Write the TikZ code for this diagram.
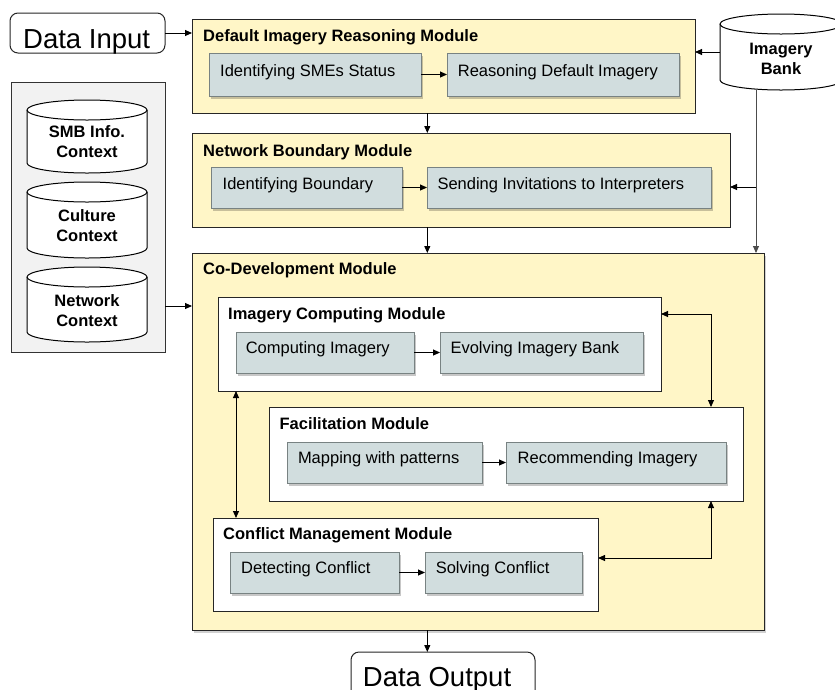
\documentclass[tikz,border=0pt]{standalone}
\usepackage{fontspec}
\setmainfont{Liberation Sans}
\usetikzlibrary{arrows.meta,shadows}
\definecolor{modyellow}{RGB}{255,246,199}
\definecolor{stepfill}{RGB}{209,221,222}
\definecolor{stepedge}{RGB}{120,130,130}
\definecolor{panelgray}{RGB}{242,242,242}
\newcommand{\fsz}{\fontsize{16.5}{20}\selectfont}
\newcommand{\fbig}{\fontsize{27.5}{32}\selectfont}
\newcommand{\drawcyl}[4]{%
  \pgfmathsetmacro\cylrx{(#3-#1)/2}%
  \filldraw[cyl] (#1,#2+10) -- (#1,#4-10) arc[start angle=180,end angle=0,x radius=\cylrx,y radius=10] -- (#3,#2+10) arc[start angle=0,end angle=-180,x radius=\cylrx,y radius=10] -- cycle;
  \draw[cyl,fill=none] (#1,#2+10) arc[start angle=180,end angle=0,x radius=\cylrx,y radius=10];
}
\begin{document}
\begin{tikzpicture}[x=1pt,y=-1pt,
  box/.style={anchor=north west, inner sep=0pt, outer sep=0pt},
  module/.style={box, draw=black!85, fill=modyellow, line width=1pt},
  submodule/.style={box, draw=black!85, fill=white, line width=1pt},
  stepbox/.style={box, draw=stepedge, fill=stepfill, line width=1pt, drop shadow={shadow xshift=1.5pt, shadow yshift=-2.5pt, fill=black, opacity=0.22}},
  titletext/.style={anchor=base west, inner sep=0pt, font=\bfseries\fsz},
  steptext/.style={anchor=base west, inner sep=0pt, font=\fsz},
  cyltext/.style={align=center, inner sep=0pt, font=\bfseries\fsz},
  bigtext/.style={anchor=base west, inner sep=0pt, font=\fbig},
  arr/.style={-{Triangle[length=7pt,width=6pt]}, line width=0.9pt, draw=black},
  darr/.style={{Triangle[length=7pt,width=6pt]}-{Triangle[length=7pt,width=6pt]}, line width=0.9pt, draw=black},
  cyl/.style={draw=black, line width=1pt, fill=white}
]
\useasboundingbox (0,0) rectangle (835,689);
\fill[white] (0,0) rectangle (835,689);

% Data input
\node[box, draw=black!85, rounded corners=8pt, line width=1pt, minimum width=155pt, minimum height=40pt] (din) at (10,13) {};
\node[bigtext] (dintext) at (23,48.3) {Data Input};

% Default Imagery Reasoning Module
\node[module, minimum width=503pt, minimum height=94pt] (dirm) at (192,19) {};
\node[titletext] (tdirm) at (203,41) {Default Imagery Reasoning Module};
\node[stepbox, minimum width=212pt, minimum height=43pt] (b1) at (209,53) {};
\node[stepbox, minimum width=232pt, minimum height=43pt] (b2) at (447,53) {};
\node[steptext] (l1) at (220,76) {Identifying SMEs Status};
\node[steptext] (l2) at (457.7,76) {Reasoning Default Imagery};

% Imagery Bank
\drawcyl{720}{14}{842}{90}
\node[box, minimum width=122pt, minimum height=76pt] (ib) at (720,14) {};
\node[cyltext] (ibtext) at (781,59) {Imagery\\Bank};

% Network Boundary Module
\node[module, minimum width=538pt, minimum height=94pt] (nbm) at (192,133) {};
\node[titletext] (tnbm) at (203,156) {Network Boundary Module};
\node[stepbox, minimum width=191pt, minimum height=41pt] (b3) at (211,167) {};
\node[stepbox, minimum width=284pt, minimum height=41pt] (b4) at (427,167) {};
\node[steptext] (l3) at (222.5,189) {Identifying Boundary};
\node[steptext] (l4) at (437.3,189) {Sending Invitations to Interpreters};

% Context panel
\node[box, draw=black!80, fill=panelgray, line width=1pt, minimum width=154pt, minimum height=270pt] (panel) at (11,82) {};
\drawcyl{27}{100}{147}{173}
\drawcyl{27}{182}{147}{258}
\drawcyl{27}{267}{147}{342}
\node[cyltext] (smb) at (87,142) {SMB Info.\\Context};
\node[cyltext] (cult) at (87,226) {Culture\\Context};
\node[cyltext] (netc) at (87,310.5) {Network\\Context};

% Co-Development Module
\node[module, minimum width=572pt, minimum height=377pt, drop shadow={shadow xshift=2pt, shadow yshift=-3pt, fill=black, opacity=0.18}] (codev) at (192,253) {};
\node[titletext] (tcodev) at (203,274) {Co-Development Module};

\node[submodule, minimum width=443pt, minimum height=94pt] (icm) at (218,297) {};
\node[titletext] (ticm) at (228,319) {Imagery Computing Module};
\node[stepbox, minimum width=178pt, minimum height=41pt] (b5) at (236,332) {};
\node[stepbox, minimum width=203pt, minimum height=41pt] (b6) at (440,332) {};
\node[steptext] (l5) at (245.6,353.5) {Computing Imagery};
\node[steptext] (l6) at (450.3,353.5) {Evolving Imagery Bank};

\node[submodule, minimum width=474pt, minimum height=94pt] (fm) at (269,407) {};
\node[titletext] (tfm) at (279.4,429) {Facilitation Module};
\node[stepbox, minimum width=195pt, minimum height=41pt] (b7) at (287,442) {};
\node[stepbox, minimum width=220pt, minimum height=41pt] (b8) at (506,442) {};
\node[steptext] (l7) at (297.8,463.5) {Mapping with patterns};
\node[steptext] (l8) at (517.5,463.5) {Recommending Imagery};

\node[submodule, minimum width=385pt, minimum height=93pt] (cmm) at (213,518) {};
\node[titletext] (tcmm) at (223,539) {Conflict Management Module};
\node[stepbox, minimum width=169pt, minimum height=41pt] (b9) at (230,552) {};
\node[stepbox, minimum width=157pt, minimum height=41pt] (b10) at (425,552) {};
\node[steptext] (l9) at (241,573.5) {Detecting Conflict};
\node[steptext] (l10) at (435.6,573.5) {Solving Conflict};

% Data output
\node[box, draw=black!85, rounded corners=8pt, line width=1pt, minimum width=184pt, minimum height=50pt] (dout) at (351,652) {};
\node[bigtext] (douttext) at (362.7,686.7) {Data Output};

% helper coordinates
\coordinate (xA) at (427.3,0);
\coordinate (xB) at (756,0);
\coordinate (xC) at (711,0);
\coordinate (xD) at (236,0);
\coordinate (br) at (756,187);
\coordinate (yP) at (0,306);
\coordinate (yI) at (0,314);
\coordinate (yF) at (0,558);

% connectors
\draw[arr] (din.east) -- (dirm.west |- din.east);
\draw[arr] (ib.west) -- (dirm.east |- ib.west);
\draw[arr, draw=black!70] (ib.south -| xB) -- (codev.north -| xB);
\draw[arr] (br) -- (nbm.east |- br);
\draw[arr] (dirm.south -| xA) -- (nbm.north -| xA);
\draw[arr] (nbm.south -| xA) -- (codev.north -| xA);
\draw[arr] (panel.east |- yP) -- (codev.west |- yP);
\draw[arr] (codev.south -| xA) -- (dout.north -| xA);
\draw[darr] (icm.east |- yI) -| (fm.north -| xC);
\draw[darr] (icm.south -| xD) -- (cmm.north -| xD);
\draw[darr] (fm.south -| xC) |- (cmm.east |- yF);
\draw[arr] (b1.east) -- (b2.west);
\draw[arr] (b3.east) -- (b4.west);
\draw[arr] (b5.east) -- (b6.west);
\draw[arr] (b7.east) -- (b8.west);
\draw[arr] (b9.east) -- (b10.west);
\end{tikzpicture}
\end{document}
